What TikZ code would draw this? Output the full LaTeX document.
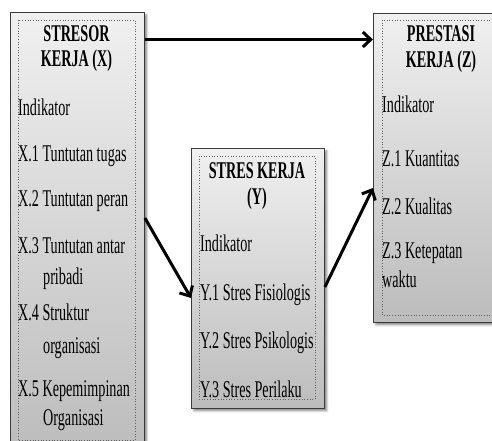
\documentclass[tikz,border=0pt]{standalone}
\usepackage{fontspec}
\setmainfont{Liberation Serif}[FakeStretch=0.59]
\usetikzlibrary{arrows.meta,shadows.blur}
\definecolor{topc}{HTML}{F0F0F0}
\definecolor{botc}{HTML}{BCBCBC}
\definecolor{edgec}{HTML}{3A3A3A}
\tikzset{
  box/.style={draw=edgec, line width=0.9pt, top color=topc, bottom color=botc,
    rectangle, inner sep=0pt, anchor=north west,
    blur shadow={shadow xshift=2.5pt, shadow yshift=-2.5pt, shadow blur steps=6, shadow opacity=45}},
  frame/.style={draw=edgec!80, dotted, line width=0.7pt},
  txt/.style={anchor=base west, inner sep=0pt, font=\fontsize{24}{28}\selectfont},
  ttl/.style={anchor=base, inner sep=0pt, font=\fontsize{24}{28}\selectfont\bfseries},
  arr/.style={line width=3pt, -{Straight Barb[length=8pt,width=15pt,line width=3pt]}}
}
\begin{document}
\begin{tikzpicture}[x=1pt,y=-1pt]
\useasboundingbox (0,0) rectangle (492,441);
\clip (0,0) rectangle (492,441);
% boxes
\node[box, minimum width=134pt, minimum height=440pt] (X) at (10,12) {};
\node[box, minimum width=133pt, minimum height=260pt] (Y) at (191,148) {};
\node[box, minimum width=130pt, minimum height=309pt] (Z) at (373,13) {};
% inner dotted frames
\draw[frame] (18,20) rectangle (135,440);
\draw[frame] (199,156) rectangle (315,399);
\draw[frame] (382,20) rectangle (496,315);
% X texts
\node[ttl] (x0) at (76.5,42) {STRESOR};
\node[ttl] (x1) at (76.5,67) {KERJA (X)};
\node[txt] (x2) at (18,115) {Indikator};
\node[txt] (x3) at (18,161) {X.1 Tuntutan tugas};
\node[txt] (x4) at (18,206) {X.2 Tuntutan peran};
\node[txt] (x5) at (18,253) {X.3 Tuntutan antar};
\node[txt] (x6) at (43,284) {pribadi};
\node[txt] (x7) at (18,320) {X.4 Struktur};
\node[txt] (x8) at (43,353) {organisasi};
\node[txt] (x9) at (18,396) {X.5 Kepemimpinan};
\node[txt] (x10) at (43,425) {Organisasi};
% Y texts
\node[ttl] (y0) at (257,178) {STRES KERJA};
\node[ttl] (y1) at (257,204) {(Y)};
\node[txt] (y2) at (200,251) {Indikator};
\node[txt] (y3) at (200,300) {Y.1 Stres Fisiologis};
\node[txt] (y4) at (200,348) {Y.2 Stres Psikologis};
\node[txt] (y5) at (200,397) {Y.3 Stres Perilaku};
% Z texts
\node[ttl] (z0) at (441,42) {PRESTASI};
\node[ttl] (z1) at (441,68) {KERJA (Z)};
\node[txt] (z2) at (382,113) {Indikator};
\node[txt] (z3) at (382,166) {Z.1 Kuantitas};
\node[txt] (z4) at (382,214) {Z.2 Kualitas};
\node[txt] (z5) at (382,258) {Z.3 Ketepatan};
\node[txt] (z6) at (382,287) {waktu};
% arrows
\draw[arr] (X.east |- 0,39.5) -- (Z.west |- 0,39.5);
\draw[arr] (X.east |- 0,218) -- (Y.west |- 0,298);
\draw[arr] (Y.east |- 0,287) -- (Z.west |- 0,188);
\end{tikzpicture}
\end{document}
